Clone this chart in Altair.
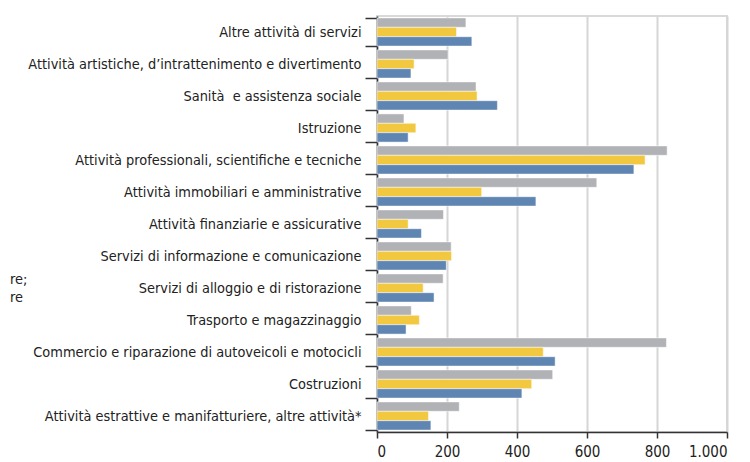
import altair as alt
import pandas as pd

categories = [
    "Altre attività di servizi",
    "Attività artistiche, d’intrattenimento e divertimento",
    "Sanità\u00a0 e assistenza sociale",
    "Istruzione",
    "Attività professionali, scientifiche e tecniche",
    "Attività immobiliari e amministrative",
    "Attività finanziarie e assicurative",
    "Servizi di informazione e comunicazione",
    "Servizi di alloggio e di ristorazione",
    "Trasporto e magazzinaggio",
    "Commercio e riparazione di autoveicoli e motocicli",
    "Costruzioni",
    "Attività estrattive e manifatturiere, altre attività*",
]
series_names = ["Serie 1", "Serie 2", "Serie 3"]
series_colors = ["#b1b2b6", "#f2c840", "#5f85b2"]

gray_values = [254, 203, 283, 77, 829, 628, 190, 212, 189, 98, 827, 502, 235]
yellow_values = [227, 106, 286, 111, 766, 299, 89, 213, 132, 121, 475, 442, 147]
blue_values = [271, 97, 344, 89, 734, 454, 127, 198, 163, 83, 509, 414, 154]

x_ticks = [0, 200, 400, 600, 800, 1000]

fragments = ["re;", "re"]

rows = []
for i, c in enumerate(categories):
    for s, vals in zip(series_names, [gray_values, yellow_values, blue_values]):
        rows.append({"categoria": c, "serie": s, "valore": vals[i]})
df = pd.DataFrame(rows)

FONT = "Liberation Sans Narrow, DejaVu Sans Condensed, sans-serif"

bars = alt.Chart(df).mark_bar(
    stroke="white", strokeWidth=1, strokeOpacity=0.5
).encode(
    y=alt.Y(
        "categoria:N",
        sort=categories,
        title=None,
        scale=alt.Scale(paddingInner=0.12, paddingOuter=0.06),
        axis=alt.Axis(
            tickBand="extent",
            tickSize=12,
            tickColor="#333333",
            tickWidth=1.5,
            domainColor="#333333",
            domainWidth=1.5,
            labelPadding=4,
            labelFont=FONT,
            labelFontSize=14.4,
            labelColor="#222222",
            labelLimit=400,
            grid=False,
        ),
    ),
    yOffset=alt.YOffset("serie:N", sort=series_names,
                        scale=alt.Scale(paddingInner=0, paddingOuter=0)),
    x=alt.X(
        "valore:Q",
        title=None,
        scale=alt.Scale(domain=[0, 1000], nice=False),
        axis=alt.Axis(
            values=x_ticks,
            labelExpr="replace(format(datum.value, ',d'), ',', '.')",
            tickSize=6,
            tickColor="#333333",
            tickWidth=1.5,
            domainColor="#333333",
            domainWidth=1.5,
            labelFont=FONT,
            labelFontSize=15,
            labelColor="#222222",
            labelPadding=6,
            grid=True,
            gridColor="#d6d6d6",
            gridWidth=2,
        ),
    ),
    color=alt.Color(
        "serie:N",
        scale=alt.Scale(domain=series_names, range=series_colors),
        legend=None,
    ),
)

frag1 = alt.Chart(pd.DataFrame({"t": [fragments[0]]})).mark_text(
    align="left", baseline="middle", font=FONT, fontSize=14.4, color="#222222"
).encode(text="t:N", x=alt.value(-367), y=alt.value(264))
frag2 = alt.Chart(pd.DataFrame({"t": [fragments[1]]})).mark_text(
    align="left", baseline="middle", font=FONT, fontSize=14.4, color="#222222"
).encode(text="t:N", x=alt.value(-367), y=alt.value(282))

chart = alt.layer(bars, frag1, frag2).properties(
    width=350,
    height=416,
    autosize=alt.AutoSizeParams(type="none"),
    padding={"left": 369, "top": 8, "right": 10, "bottom": 30},
).configure_view(
    stroke="#d9d9d9", strokeWidth=2
)

chart.save("out.html", embed_options={"renderer": "svg", "actions": False})
